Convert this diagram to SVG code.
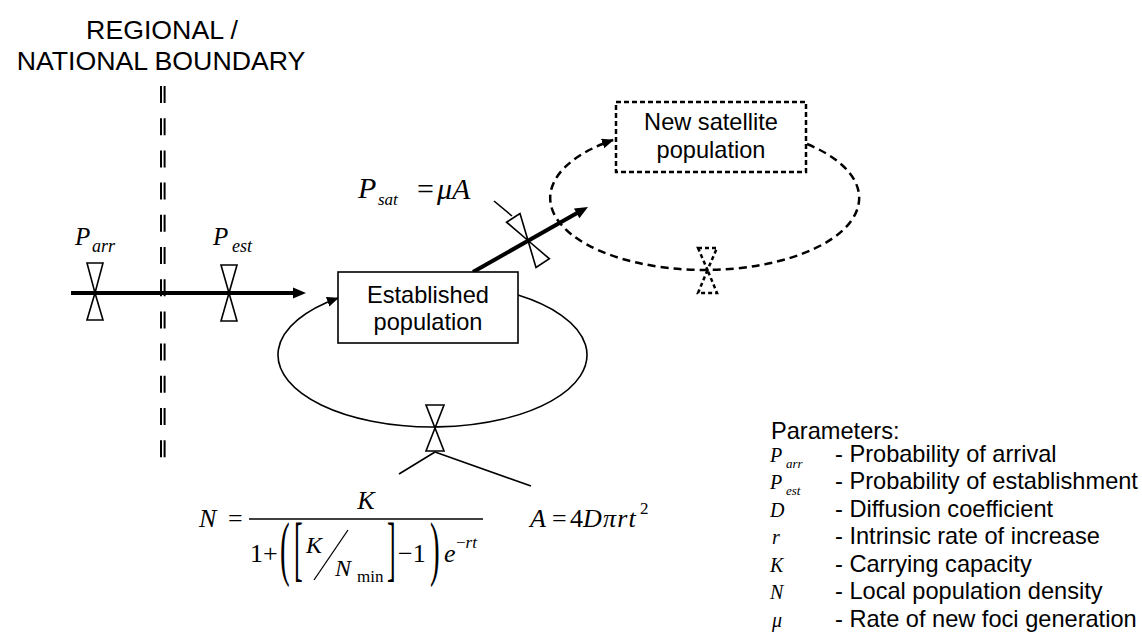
<svg xmlns="http://www.w3.org/2000/svg" width="1142" height="642" viewBox="0 0 1142 642">
<style>
.sans{font-family:"Liberation Sans",Arial,sans-serif;fill:#000}
.serif{font-family:"Liberation Serif","Times New Roman",serif;fill:#000}
.it{font-style:italic}
.valve{fill:#fff;stroke:#000;stroke-width:1.6;stroke-linejoin:miter}
.dvalve{fill:none;stroke:#000;stroke-width:2.5;stroke-dasharray:4 3}
.flow{stroke:#000;stroke-width:4;fill:none}
.thin{stroke:#000;stroke-width:1.6;fill:none}
.box{fill:#fff;stroke:#000;stroke-width:1.6}
.dbox{fill:#fff;stroke:#000;stroke-width:2.5;stroke-dasharray:5 3}
</style>
<defs>
<marker id="ah" markerUnits="userSpaceOnUse" markerWidth="14" markerHeight="12" refX="11" refY="5" orient="auto">
<path d="M0,0 L12,5 L0,10 Z" fill="#000"/>
</marker>
</defs>
<rect width="1142" height="642" fill="#fff"/>

<g id="boundary">
<text class="sans" x="162" y="39" font-size="26.7" text-anchor="middle">REGIONAL /</text>
<text class="sans" x="161" y="70" font-size="26.7" text-anchor="middle">NATIONAL BOUNDARY</text>
<line x1="161" y1="86" x2="161" y2="468" stroke="#000" stroke-width="2" stroke-dasharray="17 15.2"/>
<line x1="164.6" y1="86" x2="164.6" y2="468" stroke="#000" stroke-width="2" stroke-dasharray="17 15.2"/>
</g>

<g id="connectors">
<line class="flow" x1="71" y1="293" x2="296" y2="293"/>
<polygon points="293,287.5 306,293 293,298.5" fill="#000"/>
<path class="thin" d="M518,295 A154.5,72 0 1,1 338,298" marker-end="url(#ah)"/>
<line class="flow" x1="473" y1="272" x2="578" y2="212.5"/>
<polygon points="588,207 579.4,218.2 574,208.6" fill="#000"/>
<path d="M807,144 A154.5,72 0 1,1 613,140" fill="none" stroke="#000" stroke-width="2.5" stroke-dasharray="8 5" marker-end="url(#ah)"/>
<line class="thin" x1="435" y1="452" x2="399" y2="474"/>
<line class="thin" x1="435" y1="452" x2="531" y2="486"/>
<line class="thin" x1="494" y1="201" x2="512" y2="216"/>
</g>

<g id="valve-arr">
<polygon class="valve" points="87,263 103,263 95,293"/>
<polygon class="valve" points="95,293 87,320 103,320"/>
<text class="serif it" x="75" y="245" font-size="25">P</text>
<text class="serif it" x="92" y="252" font-size="18">arr</text>
</g>

<g id="valve-est">
<polygon class="valve" points="221,265 237,265 229,293"/>
<polygon class="valve" points="229,293 221,321 237,321"/>
<text class="serif it" x="213" y="245" font-size="25">P</text>
<text class="serif it" x="232" y="252" font-size="18">est</text>
</g>

<g id="established">
<rect class="box" x="338" y="272" width="180" height="71"/>
<text class="sans" x="428" y="303" font-size="23.6" text-anchor="middle">Established</text>
<text class="sans" x="428" y="330" font-size="23.6" text-anchor="middle">population</text>
</g>

<g id="valve-growth">
<polygon class="valve" points="426,405 444,405 435,428"/>
<polygon class="valve" points="435,428 426,451 444,451"/>
</g>

<g id="valve-sat">
<g transform="translate(528,240.5) rotate(-33)">
<polygon class="valve" points="-8,-27 8,-27 0,0"/>
<polygon class="valve" points="0,0 -8,27 8,27"/>
</g>
<text class="serif it" x="358" y="198" font-size="30">P</text>
<text class="serif it" x="378" y="205" font-size="17">sat</text>
<text class="serif" x="417" y="199" font-size="30">=</text>
<text class="serif it" x="437" y="199" font-size="30">μA</text>
</g>

<g id="satellite">
<rect class="dbox" x="616" y="102" width="190" height="70"/>
<text class="sans" x="711" y="130" font-size="23.6" text-anchor="middle">New satellite</text>
<text class="sans" x="711" y="158" font-size="23.6" text-anchor="middle">population</text>
</g>

<g id="valve-sat-growth">
<polygon class="dvalve" points="698,248 717,248 707.5,270"/>
<polygon class="dvalve" points="707.5,270 698,293 717,293"/>
</g>

<g id="formula-N">
<text class="serif it" x="199" y="527" font-size="26">N</text>
<text class="serif" x="228" y="527" font-size="26">=</text>
<line x1="249" y1="519" x2="483" y2="519" stroke="#000" stroke-width="1.3"/>
<text class="serif it" x="366" y="509" font-size="26" text-anchor="middle">K</text>
<text class="serif" x="250" y="562" font-size="26">1</text>
<text class="serif" x="263" y="562" font-size="26">+</text>
<text class="serif" transform="translate(280,572) scale(0.5,1.25)" font-size="58">(</text>
<text class="serif" transform="translate(294,572) scale(0.45,1.25)" font-size="58">[</text>
<text class="serif it" x="306" y="553" font-size="24">K</text>
<line x1="314" y1="580" x2="348" y2="530" stroke="#000" stroke-width="1.3"/>
<text class="serif it" x="335" y="576" font-size="24">N</text>
<text class="serif" x="357" y="582" font-size="17">min</text>
<text class="serif" transform="translate(387,572) scale(0.45,1.25)" font-size="58">]</text>
<text class="serif" x="398" y="562" font-size="26">−1</text>
<text class="serif" transform="translate(430,572) scale(0.5,1.25)" font-size="58">)</text>
<text class="serif it" x="444" y="562" font-size="26">e</text>
<text class="serif" x="456" y="548" font-size="17">−<tspan class="it">rt</tspan></text>
</g>

<g id="formula-A">
<text class="serif it" x="530" y="527" font-size="26">A</text>
<text class="serif" x="552" y="527" font-size="26">=</text>
<text class="serif" x="570" y="527" font-size="26">4</text>
<text class="serif it" x="583" y="527" font-size="26" letter-spacing="1.2">Dπrt</text>
<text class="serif" x="640" y="514" font-size="17">2</text>
</g>

<g id="legend">
<text class="sans" x="771" y="439" font-size="23.6">Parameters:</text>
<text class="serif it" x="770" y="462" font-size="20">P</text><text class="serif it" x="786" y="468" font-size="13">arr</text>
<text class="sans" x="835" y="462" font-size="23.6">- Probability of arrival</text>
<text class="serif it" x="770" y="489" font-size="20">P</text><text class="serif it" x="786" y="495" font-size="13">est</text>
<text class="sans" x="835" y="489" font-size="23.6">- Probability of establishment</text>
<text class="serif it" x="770" y="517" font-size="20">D</text>
<text class="sans" x="835" y="517" font-size="23.6">- Diffusion coefficient</text>
<text class="serif it" x="772" y="544" font-size="20">r</text>
<text class="sans" x="835" y="544" font-size="23.6">- Intrinsic rate of increase</text>
<text class="serif it" x="770" y="572" font-size="20">K</text>
<text class="sans" x="835" y="572" font-size="23.6">- Carrying capacity</text>
<text class="serif it" x="770" y="599" font-size="20">N</text>
<text class="sans" x="835" y="599" font-size="23.6">- Local population density</text>
<text class="serif it" x="772" y="627" font-size="20">μ</text>
<text class="sans" x="835" y="627" font-size="23.6">- Rate of new foci generation</text>
</g>
</svg>
